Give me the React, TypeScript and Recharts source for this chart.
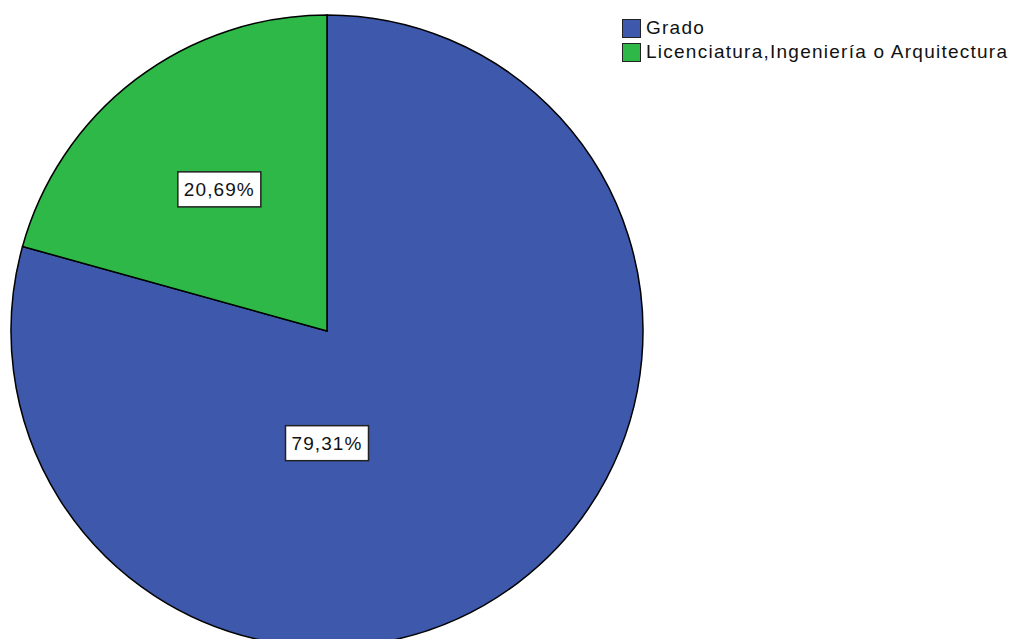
import { PieChart, Pie, Cell } from "recharts";

const CATEGORIES = ["Grado", "Licenciatura,Ingeniería o Arquitectura"];
const COUNTS = [23, 6];
const COLORS = ["#3E58AC", "#2EB848"];

// where each value box sits: angle (deg, null = slice middle) and fraction of the radius
const LABEL_SPOTS: { angle: number | null; r: number }[] = [
  { angle: 270, r: 0.355 },
  { angle: null, r: 0.563 },
];

const data = CATEGORIES.map((name, i) => ({ name, value: COUNTS[i] }));
const total = COUNTS.reduce((s, v) => s + v, 0);

const FONT = '"Liberation Sans", Arial, sans-serif';
const RAD = Math.PI / 180;

function renderLabel(props: any) {
  const { cx, cy, midAngle, outerRadius, index, value } = props;
  const spot = LABEL_SPOTS[index];
  const ang = spot.angle ?? midAngle;
  const r = outerRadius * spot.r;
  const x = cx + r * Math.cos(-ang * RAD);
  const y = cy + r * Math.sin(-ang * RAD);
  const txt = ((value / total) * 100).toFixed(2).replace(".", ",") + "%";
  const w = 83;
  const h = 35;
  return (
    <g key={`lbl-${index}`}>
      <rect x={x - w / 2} y={y - h / 2} width={w} height={h} fill="#fff" stroke="#222" strokeWidth={1.5} />
      <text
        x={x}
        y={y + 7}
        textAnchor="middle"
        fill="#111"
        style={{ fontFamily: FONT, fontSize: 19, letterSpacing: 1.1 }}
      >
        {txt}
      </text>
    </g>
  );
}

function LegendBox() {
  return (
    <div
      style={{
        position: "absolute",
        left: 622,
        top: 16,
        fontFamily: FONT,
        fontSize: 19,
        letterSpacing: 1.25,
        color: "#111",
      }}
    >
      {CATEGORIES.map((c, i) => (
        <div key={c} style={{ display: "flex", alignItems: "center", height: 24, whiteSpace: "nowrap" }}>
          <div
            style={{
              width: 19,
              height: 19,
              background: COLORS[i],
              border: "1.5px solid #222",
              marginRight: 5,
              boxSizing: "border-box",
            }}
          />
          <span>{c}</span>
        </div>
      ))}
    </div>
  );
}

export default function App() {
  return (
    <div style={{ position: "absolute", left: 0, top: 0, width: 1012, height: 639, overflow: "hidden", background: "#fff" }}>
      <PieChart width={1012} height={639} margin={{ top: 0, right: 0, bottom: 0, left: 0 }}>
        <Pie
          data={data}
          dataKey="value"
          nameKey="name"
          cx={327}
          cy={331}
          outerRadius={316}
          startAngle={90}
          endAngle={-270}
          stroke="#000"
          strokeWidth={1.5}
          label={renderLabel}
          labelLine={false}
          isAnimationActive={false}
        >
          {data.map((_, i) => (
            <Cell key={i} fill={COLORS[i]} />
          ))}
        </Pie>
      </PieChart>
      <LegendBox />
    </div>
  );
}
